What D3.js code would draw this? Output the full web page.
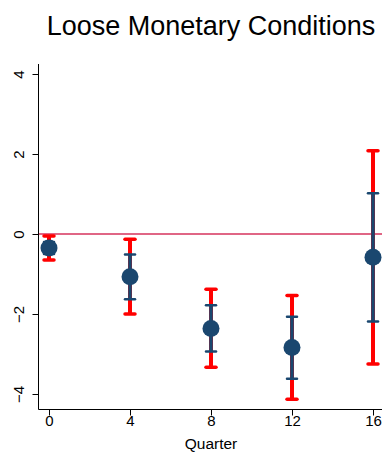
<!DOCTYPE html>
<html>
  <head>
    <meta charset="utf-8">
    <title>Loose Monetary Conditions</title>
    <script src="https://d3js.org/d3.v7.min.js"></script>
    <style>
      body { margin: 0; background: #fff; }
      text { font-family: "Liberation Sans", Arial, sans-serif; }
    </style>
  </head>
  <body>
    <svg width="382" height="452"></svg>

    <script>
      // chart values
      const quarters = [0, 4, 8, 12, 16];
      const estimate = [-0.35, -1.07, -2.36, -2.84, -0.58];
      const ci90Low = [-0.5, -1.63, -2.94, -3.62, -2.19];
      const ci90High = [-0.2, -0.51, -1.78, -2.07, 1.02];
      const ci95Low = [-0.65, -2.0, -3.33, -4.13, -3.25];
      const ci95High = [-0.05, -0.13, -1.38, -1.54, 2.08];
      const yTicks = [-4, -2, 0, 2, 4];
      const xTicks = [0, 4, 8, 12, 16];

      const navy = "#1a476f";
      const red = "#ff0000";

      const svg = d3.select("svg");

      const x = d3.scaleLinear().domain([0, 16]).range([49, 373]);
      const y = d3.scaleLinear().domain([-4, 4]).range([394, 74]);

      const rows = quarters.map((q, i) => ({
        q: q, est: estimate[i],
        lo90: ci90Low[i], hi90: ci90High[i],
        lo95: ci95Low[i], hi95: ci95High[i]
      }));

      // title
      svg.append("text")
        .attr("x", 211)
        .attr("y", 35)
        .attr("text-anchor", "middle")
        .attr("font-size", 27)
        .attr("fill", "#000")
        .text("Loose Monetary Conditions");

      // zero line
      svg.append("line")
        .attr("x1", 39).attr("x2", 382)
        .attr("y1", y(0)).attr("y2", y(0))
        .attr("stroke", "#d6335c")
        .attr("stroke-width", 1.5);

      // 95% intervals (red)
      const g95 = svg.append("g");
      rows.forEach(d => {
        g95.append("line")
          .attr("x1", x(d.q)).attr("x2", x(d.q))
          .attr("y1", y(d.lo95)).attr("y2", y(d.hi95))
          .attr("stroke", red).attr("stroke-width", 4);
        [d.lo95, d.hi95].forEach(v => {
          g95.append("line")
            .attr("x1", x(d.q) - 5).attr("x2", x(d.q) + 5)
            .attr("y1", y(v)).attr("y2", y(v))
            .attr("stroke", red).attr("stroke-width", 3.5)
            .attr("stroke-linecap", "round");
        });
      });

      // 90% intervals (navy)
      const g90 = svg.append("g");
      rows.forEach(d => {
        g90.append("line")
          .attr("x1", x(d.q)).attr("x2", x(d.q))
          .attr("y1", y(d.lo90)).attr("y2", y(d.hi90))
          .attr("stroke", navy).attr("stroke-width", 3.5);
        [d.lo90, d.hi90].forEach(v => {
          g90.append("line")
            .attr("x1", x(d.q) - 5).attr("x2", x(d.q) + 5)
            .attr("y1", y(v)).attr("y2", y(v))
            .attr("stroke", navy).attr("stroke-width", 2.5)
            .attr("stroke-linecap", "round");
        });
      });

      // point estimates
      svg.selectAll("circle.est")
        .data(rows)
        .enter()
        .append("circle")
        .attr("class", "est")
        .attr("cx", d => x(d.q))
        .attr("cy", d => y(d.est))
        .attr("r", 8.5)
        .attr("fill", navy);

      // y axis
      const yAxis = svg.append("g")
        .attr("transform", "translate(38.5,0)")
        .call(d3.axisLeft(y).tickValues(yTicks).tickSize(6).tickSizeOuter(0)
          .tickFormat(d3.format("d")));
      yAxis.select(".domain").attr("d", "M0,64V409.5").attr("stroke", "#000");
      yAxis.selectAll(".tick line").attr("stroke", "#000");
      yAxis.selectAll(".tick text")
        .attr("font-size", 15)
        .attr("fill", "#000")
        .attr("x", 0).attr("dy", 0)
        .attr("transform", "translate(-14.5,0) rotate(-90)")
        .attr("text-anchor", "middle")
        .attr("font-family", "Liberation Sans, Arial, sans-serif");

      // x axis
      const xAxis = svg.append("g")
        .attr("transform", "translate(0,409.5)")
        .call(d3.axisBottom(x).tickValues(xTicks).tickSize(6).tickSizeOuter(0)
          .tickFormat(d3.format("d")));
      xAxis.select(".domain").attr("d", "M38.5,0H382").attr("stroke", "#000");
      xAxis.selectAll(".tick line").attr("stroke", "#000");
      xAxis.selectAll(".tick text")
        .attr("font-size", 15)
        .attr("fill", "#000")
        .attr("y", 16).attr("dy", 0)
        .attr("dominant-baseline", "auto")
        .attr("font-family", "Liberation Sans, Arial, sans-serif");

      svg.append("text")
        .attr("x", 211)
        .attr("y", 449)
        .attr("text-anchor", "middle")
        .attr("font-size", 15.5)
        .attr("fill", "#000")
        .text("Quarter");
    </script>
  </body>
</html>
